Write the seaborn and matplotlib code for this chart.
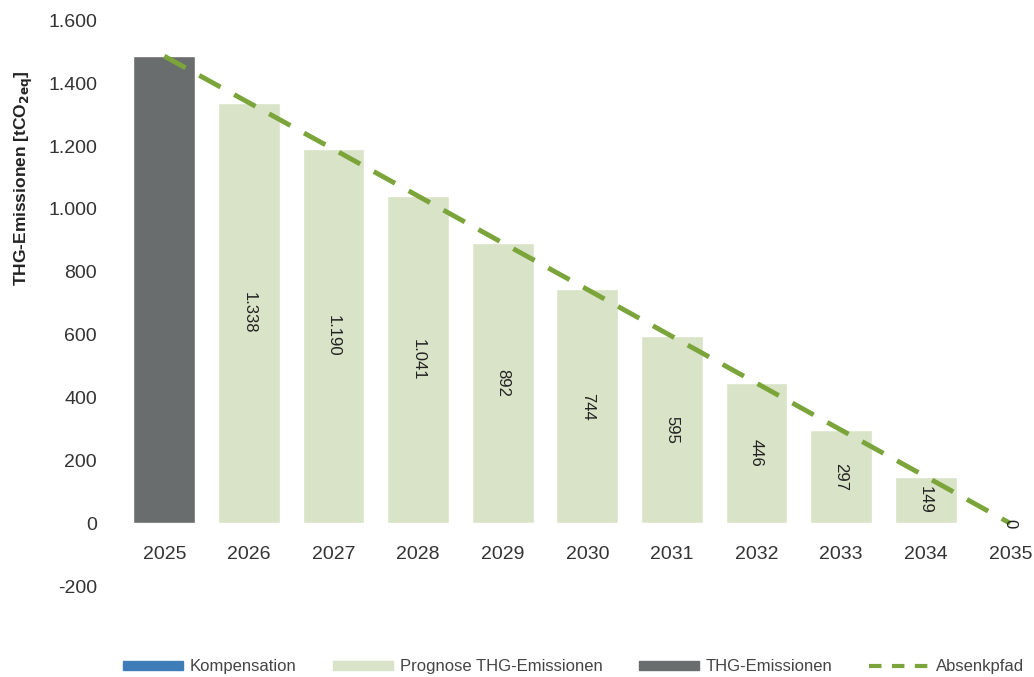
import numpy as np
import pandas as pd
import matplotlib.pyplot as plt
from matplotlib.patches import Patch
from matplotlib.lines import Line2D
from matplotlib.ticker import FuncFormatter
import seaborn as sns

# Daten
jahre = ["2025", "2026", "2027", "2028", "2029", "2030", "2031", "2032", "2033", "2034", "2035"]
emissionen = [1486, 1338, 1190, 1041, 892, 744, 595, 446, 297, 149, 0]
typ = ["THG-Emissionen"] + ["Prognose THG-Emissionen"] * 10
absenkpfad = [1486, 1338, 1190, 1041, 892, 744, 595, 446, 297, 149, 0]
beschriftung = ["", "1.338", "1.190", "1.041", "892", "744", "595", "446", "297", "149", "0"]

farben = {"Kompensation": "#3f7db8",
          "Prognose THG-Emissionen": "#d9e3c7",
          "THG-Emissionen": "#6a6d6d"}
gruen = "#7ba53a"

df = pd.DataFrame({"jahr": jahre, "wert": emissionen, "typ": typ})

sns.set_theme(style="white")
plt.rcParams['font.family'] = ['Liberation Sans', 'DejaVu Sans']

fig = plt.figure(figsize=(10.34, 6.77), dpi=100)
ax = fig.add_axes([0.118, 0.134, 0.882, 0.836])

sns.barplot(data=df, x="jahr", y="wert", hue="typ", palette=farben, dodge=False,
            width=0.73, legend=False, ax=ax, saturation=1)

sns.lineplot(x=np.arange(len(jahre)), y=absenkpfad, color=gruen, linewidth=3.5,
             ax=ax, dashes=False)
ax.lines[-1].set_dashes([5, 3.2])

# Werte in den Balken
for i, (w, t) in enumerate(zip(emissionen, beschriftung)):
    if t:
        ax.text(i, w / 2, t, rotation=270, ha="center", va="center",
                fontsize=12, color="#222222")

ax.set_ylim(-200, 1600)
ax.set_xlim(-0.5, 10.28)
ax.set_yticks(range(-200, 1601, 200))
ax.yaxis.set_major_formatter(FuncFormatter(lambda v, p: f"{int(v):,}".replace(",", ".")))
ax.tick_params(axis="y", labelsize=14, colors="#333333", length=0, pad=18)
ax.tick_params(axis="x", labelsize=14, colors="#333333", length=0, pad=16)
for s in ax.spines.values():
    s.set_visible(False)
ax.spines["bottom"].set_position(("data", 0))

ax.set_xlabel("")
ax.set_ylabel(r"THG-Emissionen [tCO$_{\mathbf{2eq}}$]", fontsize=12.5, fontweight="bold",
              color="#222222")
ax.yaxis.set_label_coords(-0.095, 0.72)

handles = [Patch(color=farben["Kompensation"]),
           Patch(color=farben["Prognose THG-Emissionen"]),
           Patch(color=farben["THG-Emissionen"]),
           Line2D([0], [0], color=gruen, linewidth=3, dashes=[3, 2.5])]
labels = ["Kompensation", "Prognose THG-Emissionen", "THG-Emissionen", "Absenkpfad"]
fig.legend(handles, labels, loc="lower right", bbox_to_anchor=(1.005, -0.018), ncol=4,
           frameon=False, fontsize=12,
           handlelength=3.6, handleheight=0.45,
           columnspacing=2.2, handletextpad=0.4, labelcolor="#444444")

fig.savefig("out.png", dpi=100)
